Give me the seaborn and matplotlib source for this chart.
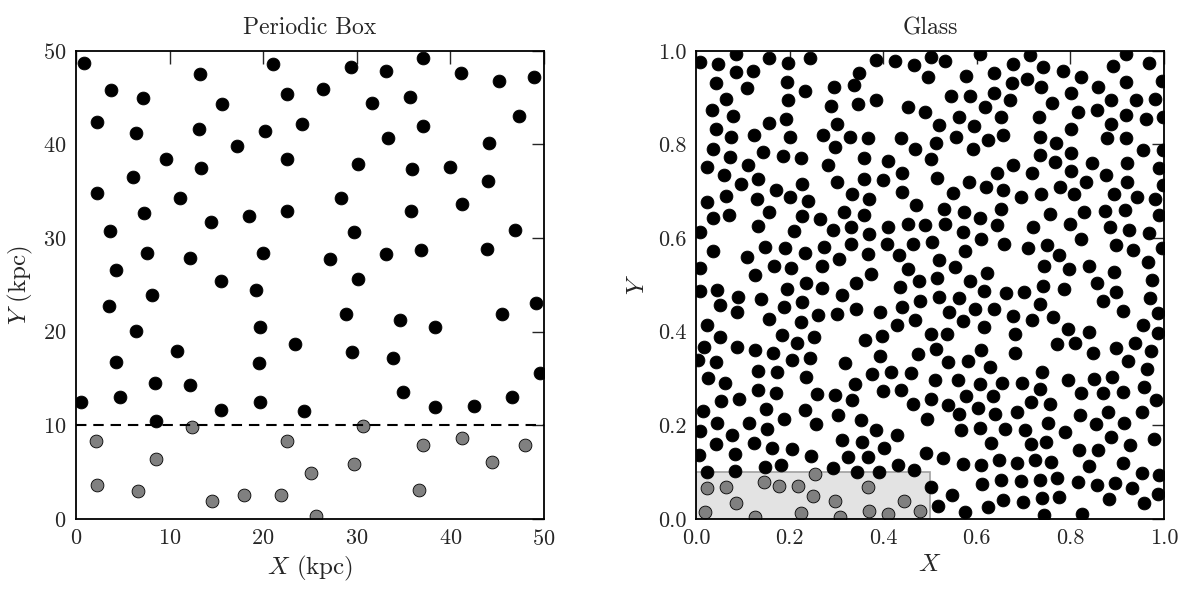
import numpy as np
import pandas as pd
import matplotlib
matplotlib.use("Agg")
import matplotlib.pyplot as plt
import seaborn as sns
from matplotlib.patches import Rectangle

# ---------------- data: periodic box (kpc) ----------------
box_black = [
    (0.85, 48.7), (3.7, 45.8), (7.2, 45.0), (13.2, 47.5), (15.6, 44.3), (21.1, 48.6), (22.6, 45.4),
    (26.4, 45.9), (29.4, 48.3), (33.1, 47.8), (37.1, 49.2), (31.6, 44.4), (35.7, 45.1), (41.1, 47.6),
    (45.2, 46.8), (48.9, 47.2), (2.2, 42.4), (6.4, 41.2), (13.1, 41.7), (20.2, 41.4), (24.1, 42.2),
    (17.2, 39.8), (33.3, 40.7), (37.1, 42.0), (47.3, 43.0), (44.1, 40.1), (9.6, 38.4), (13.4, 37.5),
    (22.6, 38.4), (30.1, 37.9), (35.9, 37.4), (40.0, 37.6), (44.0, 36.1), (6.1, 36.5), (2.3, 34.8),
    (11.1, 34.3), (28.3, 34.3), (41.2, 33.6), (7.3, 32.7), (14.4, 31.7), (18.5, 32.4), (22.5, 32.9),
    (35.8, 32.9), (3.6, 30.8), (29.7, 30.6), (46.9, 30.9), (7.6, 28.4), (12.2, 27.9), (20.0, 28.4),
    (27.1, 27.8), (33.1, 28.3), (36.9, 28.7), (43.9, 28.8), (4.3, 26.6), (15.5, 25.4), (19.2, 24.5),
    (30.1, 25.6), (8.1, 23.9), (3.5, 22.7), (49.1, 23.1), (28.9, 21.9), (34.6, 21.2), (45.5, 21.9),
    (6.4, 20.1), (19.7, 20.5), (38.4, 20.5), (23.4, 18.7), (10.8, 17.9), (29.5, 17.8), (33.9, 17.2),
    (4.3, 16.8), (19.6, 16.6), (49.6, 15.6), (8.4, 14.5), (12.2, 14.3), (4.7, 13.0), (0.57, 12.5),
    (34.9, 13.5), (46.6, 13.0), (19.7, 12.5), (15.5, 11.6), (24.4, 11.5), (38.4, 11.9), (42.5, 12.1),
    (8.5, 10.5),
]
box_gray = [
    (12.4, 9.8), (30.7, 9.9), (2.1, 8.3), (22.5, 8.3), (37.1, 7.9), (41.2, 8.6), (48.0, 7.9),
    (8.6, 6.4), (29.7, 5.9), (44.4, 6.1), (25.1, 4.9), (2.2, 3.6), (6.6, 3.0), (36.7, 3.1),
    (14.5, 1.9), (17.9, 2.5), (21.9, 2.6), (25.6, 0.26),
]
box_cut = 10.0
box_ticks = [0, 10, 20, 30, 40, 50]

# ---------------- data: glass (unit box) ----------------
glass_black = [
    (0.008, 0.976), (0.085, 0.993), (0.048, 0.971), (0.085, 0.954), (0.121, 0.957), (0.155, 0.984),
    (0.196, 0.975), (0.244, 0.984), (0.043, 0.932), (0.108, 0.920), (0.195, 0.934), (0.233, 0.914),
    (0.295, 0.922), (0.064, 0.898), (0.196, 0.895), (0.289, 0.882), (0.035, 0.874), (0.080, 0.860),
    (0.155, 0.846), (0.192, 0.855), (0.301, 0.844), (0.043, 0.834), (0.075, 0.816), (0.123, 0.821),
    (0.200, 0.816), (0.272, 0.821), (0.328, 0.816), (0.036, 0.791), (0.073, 0.774), (0.144, 0.783),
    (0.185, 0.775), (0.225, 0.772), (0.297, 0.794), (0.023, 0.752), (0.112, 0.757), (0.283, 0.756),
    (0.060, 0.734), (0.096, 0.716), (0.133, 0.726), (0.226, 0.716), (0.301, 0.720), (0.172, 0.702),
    (0.023, 0.677), (0.064, 0.689), (0.130, 0.684), (0.201, 0.688), (0.240, 0.679),
    (0.348, 0.952), (0.384, 0.980), (0.425, 0.978), (0.466, 0.969), (0.502, 0.987), (0.532, 0.979),
    (0.607, 0.993), (0.338, 0.928), (0.496, 0.943), (0.576, 0.946), (0.637, 0.953), (0.347, 0.887),
    (0.384, 0.894), (0.454, 0.880), (0.489, 0.870), (0.545, 0.904), (0.586, 0.903), (0.637, 0.910),
    (0.617, 0.880), (0.520, 0.841), (0.561, 0.859), (0.595, 0.839), (0.652, 0.859), (0.368, 0.813),
    (0.438, 0.813), (0.513, 0.803), (0.555, 0.816), (0.623, 0.809), (0.657, 0.820), (0.468, 0.791),
    (0.591, 0.790), (0.358, 0.772), (0.411, 0.765), (0.503, 0.768), (0.644, 0.738), (0.440, 0.739),
    (0.359, 0.727), (0.400, 0.724), (0.514, 0.729), (0.583, 0.720), (0.619, 0.709), (0.656, 0.702),
    (0.333, 0.694), (0.370, 0.683), (0.440, 0.699), (0.550, 0.697),
    (0.714, 0.991), (0.677, 0.971), (0.742, 0.966), (0.784, 0.956), (0.919, 0.993), (0.892, 0.968),
    (0.967, 0.973), (0.675, 0.932), (0.707, 0.940), (0.823, 0.944), (0.919, 0.934), (0.995, 0.936),
    (0.737, 0.923), (0.858, 0.923), (0.671, 0.895), (0.801, 0.910), (0.761, 0.889), (0.887, 0.895),
    (0.941, 0.895), (0.981, 0.898), (0.732, 0.858), (0.817, 0.870), (0.856, 0.873), (0.919, 0.863),
    (0.962, 0.855), (0.998, 0.859), (0.735, 0.816), (0.801, 0.832), (0.887, 0.843), (0.879, 0.813),
    (0.919, 0.813), (0.770, 0.802), (0.956, 0.788), (0.997, 0.789), (0.677, 0.756), (0.735, 0.777),
    (0.801, 0.781), (0.767, 0.762), (0.846, 0.760), (0.922, 0.760), (0.717, 0.738), (0.802, 0.743),
    (0.876, 0.734), (0.990, 0.749), (0.778, 0.709), (0.833, 0.719), (0.920, 0.720), (0.997, 0.713),
    (0.694, 0.687), (0.737, 0.694), (0.808, 0.693), (0.894, 0.695), (0.942, 0.688), (0.981, 0.684),
    (0.037, 0.642), (0.071, 0.649), (0.156, 0.656), (0.226, 0.647), (0.264, 0.640), (0.316, 0.656),
    (0.132, 0.625), (0.210, 0.615), (0.293, 0.617), (0.009, 0.612), (0.037, 0.572), (0.110, 0.560),
    (0.147, 0.580), (0.191, 0.578), (0.233, 0.569), (0.274, 0.580), (0.009, 0.537), (0.167, 0.541),
    (0.204, 0.535), (0.270, 0.540), (0.306, 0.555), (0.125, 0.521), (0.009, 0.487), (0.044, 0.489),
    (0.089, 0.474), (0.195, 0.492), (0.234, 0.503), (0.270, 0.494), (0.138, 0.470), (0.227, 0.464),
    (0.313, 0.478), (0.051, 0.456), (0.087, 0.441), (0.187, 0.453), (0.157, 0.426), (0.224, 0.421),
    (0.260, 0.435), (0.302, 0.437), (0.024, 0.415), (0.051, 0.389), (0.184, 0.393), (0.253, 0.389),
    (0.215, 0.376), (0.017, 0.368), (0.088, 0.368), (0.126, 0.360), (0.165, 0.355), (0.043, 0.335),
    (0.005, 0.339), (0.206, 0.339), (0.243, 0.343), (0.318, 0.334),
    (0.471, 0.670), (0.530, 0.662), (0.573, 0.655), (0.652, 0.663), (0.358, 0.649), (0.607, 0.642),
    (0.331, 0.624), (0.411, 0.624), (0.452, 0.631), (0.489, 0.627), (0.532, 0.630), (0.571, 0.613),
    (0.644, 0.627), (0.370, 0.608), (0.331, 0.588), (0.409, 0.588), (0.464, 0.588), (0.505, 0.592),
    (0.609, 0.597), (0.659, 0.588), (0.368, 0.566), (0.434, 0.563), (0.575, 0.572), (0.520, 0.554),
    (0.452, 0.533), (0.553, 0.538), (0.374, 0.524), (0.622, 0.526), (0.341, 0.503), (0.477, 0.509),
    (0.516, 0.514), (0.585, 0.508), (0.436, 0.496), (0.616, 0.486), (0.663, 0.483), (0.478, 0.465),
    (0.519, 0.474), (0.563, 0.471), (0.342, 0.449), (0.393, 0.441), (0.441, 0.452), (0.541, 0.442),
    (0.596, 0.449), (0.637, 0.448), (0.429, 0.415), (0.468, 0.425), (0.571, 0.423), (0.616, 0.410),
    (0.361, 0.383), (0.397, 0.390), (0.502, 0.396), (0.537, 0.396), (0.610, 0.360), (0.512, 0.363),
    (0.475, 0.353), (0.393, 0.348), (0.539, 0.335), (0.582, 0.338),
    (0.756, 0.651), (0.828, 0.656), (0.874, 0.657), (0.917, 0.660), (0.990, 0.649), (0.721, 0.623),
    (0.800, 0.631), (0.885, 0.624), (0.926, 0.617), (0.967, 0.611), (0.710, 0.578), (0.751, 0.585),
    (0.823, 0.598), (0.898, 0.585), (0.934, 0.575), (0.995, 0.578), (0.776, 0.563), (0.744, 0.540),
    (0.797, 0.533), (0.840, 0.540), (0.893, 0.528), (0.966, 0.548), (0.975, 0.510), (0.856, 0.503),
    (0.741, 0.497), (0.787, 0.492), (0.701, 0.485), (0.898, 0.485), (0.869, 0.465), (0.735, 0.460),
    (0.970, 0.471), (0.912, 0.444), (0.677, 0.433), (0.987, 0.439), (0.719, 0.425), (0.763, 0.431),
    (0.956, 0.414), (0.795, 0.405), (0.840, 0.400), (0.987, 0.397), (0.681, 0.395), (0.772, 0.373),
    (0.810, 0.375), (0.898, 0.366), (0.938, 0.376), (0.681, 0.355), (0.849, 0.355), (0.972, 0.359),
    (0.924, 0.337),
    (0.026, 0.300), (0.061, 0.291), (0.132, 0.316), (0.174, 0.313), (0.235, 0.302), (0.053, 0.251),
    (0.092, 0.255), (0.132, 0.275), (0.171, 0.268), (0.258, 0.266), (0.297, 0.264), (0.014, 0.231),
    (0.150, 0.234), (0.232, 0.232), (0.304, 0.222), (0.189, 0.214), (0.044, 0.205), (0.114, 0.204),
    (0.151, 0.193), (0.256, 0.202), (0.009, 0.188), (0.076, 0.179), (0.043, 0.159), (0.123, 0.162),
    (0.162, 0.152), (0.206, 0.149), (0.313, 0.168), (0.083, 0.138), (0.007, 0.136), (0.245, 0.134),
    (0.325, 0.132), (0.182, 0.116), (0.147, 0.111), (0.024, 0.100), (0.083, 0.102), (0.292, 0.109),
    (0.628, 0.325), (0.375, 0.309), (0.417, 0.314), (0.459, 0.312), (0.340, 0.288), (0.511, 0.296),
    (0.559, 0.296), (0.607, 0.288), (0.653, 0.291), (0.400, 0.273), (0.438, 0.275), (0.334, 0.254),
    (0.502, 0.257), (0.576, 0.262), (0.634, 0.262), (0.463, 0.245), (0.539, 0.243), (0.603, 0.236),
    (0.563, 0.225), (0.639, 0.224), (0.353, 0.212), (0.494, 0.214), (0.566, 0.190), (0.607, 0.194),
    (0.660, 0.193), (0.384, 0.189), (0.430, 0.179), (0.355, 0.165), (0.402, 0.152), (0.630, 0.161),
    (0.491, 0.140), (0.368, 0.132), (0.528, 0.130), (0.648, 0.125), (0.431, 0.115), (0.571, 0.118),
    (0.610, 0.116), (0.345, 0.100), (0.390, 0.100), (0.466, 0.105), (0.652, 0.084), (0.612, 0.074),
    (0.503, 0.068), (0.548, 0.051), (0.656, 0.040), (0.518, 0.028), (0.623, 0.026), (0.575, 0.015),
    (0.963, 0.321), (0.740, 0.314), (0.795, 0.296), (0.850, 0.298), (0.888, 0.303), (0.696, 0.291),
    (0.734, 0.277), (0.823, 0.268), (0.870, 0.268), (0.912, 0.270), (0.957, 0.282), (0.983, 0.254),
    (0.715, 0.249), (0.756, 0.246), (0.685, 0.229), (0.820, 0.221), (0.881, 0.229), (0.953, 0.229),
    (0.753, 0.205), (0.855, 0.202), (0.915, 0.205), (0.703, 0.189), (0.789, 0.186), (0.887, 0.175),
    (0.978, 0.170), (0.715, 0.160), (0.748, 0.165), (0.927, 0.157), (0.819, 0.148), (0.858, 0.148),
    (0.685, 0.120), (0.724, 0.125), (0.758, 0.122), (0.840, 0.113), (0.913, 0.120), (0.952, 0.097),
    (0.990, 0.093), (0.694, 0.081), (0.735, 0.083), (0.772, 0.088), (0.816, 0.079), (0.856, 0.072),
    (0.895, 0.077), (0.931, 0.065), (0.988, 0.054), (0.699, 0.036), (0.739, 0.045), (0.776, 0.047),
    (0.883, 0.043), (0.957, 0.033), (0.744, 0.008), (0.824, 0.010),
]
glass_gray = [
    (0.254, 0.095), (0.145, 0.079), (0.178, 0.071), (0.219, 0.071), (0.023, 0.065), (0.065, 0.068),
    (0.251, 0.048), (0.297, 0.038), (0.085, 0.033), (0.019, 0.014), (0.125, 0.003), (0.224, 0.013),
    (0.308, 0.004), (0.367, 0.067), (0.444, 0.038), (0.370, 0.017), (0.411, 0.010), (0.479, 0.017),
]
glass_region = (0.5, 0.1)   # width, height of highlighted region
glass_ticks = [0.0, 0.2, 0.4, 0.6, 0.8, 1.0]

# ---------------- style ----------------
sns.set_style("white")
plt.rcParams.update({
    "font.family": ["cmr10", "DejaVu Serif"],
    "mathtext.fontset": "cm",
    "axes.unicode_minus": False,
    "axes.formatter.use_mathtext": True,
    "font.size": 16,
    "axes.linewidth": 1.3,
    "axes.edgecolor": "black",
    "xtick.direction": "in",
    "ytick.direction": "in",
    "xtick.top": True,
    "ytick.right": True,
    "xtick.major.size": 9,
    "ytick.major.size": 9,
    "xtick.major.width": 1.0,
    "ytick.major.width": 1.0,
    "xtick.major.pad": 7,
    "ytick.major.pad": 7,
    "xtick.labelsize": 16,
    "ytick.labelsize": 16,
})

fig = plt.figure(figsize=(12, 5.95), dpi=100)
ax1 = fig.add_axes([0.0633, 0.128, 0.39, 0.7866])
ax2 = fig.add_axes([0.58, 0.128, 0.39, 0.7866])

MS = 85
bb = pd.DataFrame(box_black, columns=["x", "y"])
bg = pd.DataFrame(box_gray, columns=["x", "y"])
sns.scatterplot(data=bb, x="x", y="y", ax=ax1, color="black", edgecolor="black",
                linewidth=0.6, s=MS, zorder=2)
sns.scatterplot(data=bg, x="x", y="y", ax=ax1, color="#808080", edgecolor="black",
                linewidth=0.6, s=MS, zorder=2)
ax1.axhline(box_cut, color="black", lw=1.5, ls=(0, (5, 3.3)), zorder=3)
ax1.set_xlim(0, 50)
ax1.set_ylim(0, 50)
ax1.set_xticks(box_ticks)
ax1.set_yticks(box_ticks)
ax1.set_xlabel("$X$ (kpc)", fontsize=18, labelpad=4)
ax1.set_ylabel("$Y$ (kpc)", fontsize=18, labelpad=6)
ax1.set_title("Periodic Box", fontsize=17, pad=12)

gb = pd.DataFrame(glass_black, columns=["x", "y"])
gg = pd.DataFrame(glass_gray, columns=["x", "y"])
ax2.add_patch(Rectangle((0, 0), glass_region[0], glass_region[1], facecolor="#e3e3e3",
                        edgecolor="#a0a0a0", lw=1.2, zorder=1))
sns.scatterplot(data=gb, x="x", y="y", ax=ax2, color="black", edgecolor="black",
                linewidth=0.6, s=MS, zorder=2)
sns.scatterplot(data=gg, x="x", y="y", ax=ax2, color="#808080", edgecolor="black",
                linewidth=0.6, s=MS, zorder=2)
ax2.set_xlim(0, 1)
ax2.set_ylim(0, 1)
ax2.set_xticks(glass_ticks)
ax2.set_yticks(glass_ticks)
ax2.set_xticklabels([f"{t:.1f}" for t in glass_ticks])
ax2.set_yticklabels([f"{t:.1f}" for t in glass_ticks])
ax2.set_xlabel("$X$", fontsize=18, labelpad=4)
ax2.set_ylabel("$Y$", fontsize=18, labelpad=6)
ax2.set_title("Glass", fontsize=17, pad=12)

for ax in (ax1, ax2):
    for sp in ax.spines.values():
        sp.set_visible(True)
        sp.set_linewidth(1.3)
        sp.set_zorder(5)

fig.savefig("out.png", dpi=100)
